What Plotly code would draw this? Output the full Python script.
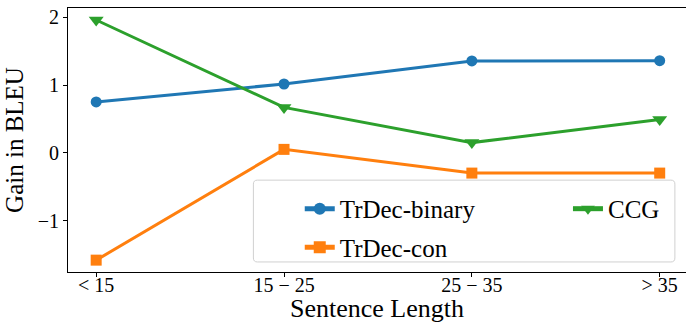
import plotly.graph_objects as go

categories = ["< 15", "15 − 25", "25 − 35", "> 35"]
trdec_binary = [0.75, 1.015, 1.355, 1.36]
trdec_con = [-1.585, 0.05, -0.30, -0.30]
ccg = [1.96, 0.67, 0.15, 0.49]

x = list(range(len(categories)))
FONT = "Liberation Serif"

fig = go.Figure()
fig.add_trace(go.Scatter(x=x, y=trdec_binary, name="TrDec-binary", mode="lines+markers",
                         line=dict(color="#1f77b4", width=3),
                         marker=dict(symbol="circle", size=11, color="#1f77b4"),
                         legend="legend", legendgroup="a"))
fig.add_trace(go.Scatter(x=x, y=trdec_con, name="TrDec-con", mode="lines+markers",
                         line=dict(color="#ff7f0e", width=3),
                         marker=dict(symbol="square", size=11, color="#ff7f0e"),
                         legend="legend", legendgroup="b"))
fig.add_trace(go.Scatter(x=x, y=ccg, name="CCG", mode="lines+markers",
                         line=dict(color="#2ca02c", width=3),
                         marker=dict(symbol="triangle-down", size=13, color="#2ca02c"),
                         legend="legend2"))

# rounded legend frame (paper coordinates)
x0, x1, y0, y1 = 0.300, 0.982, 0.038, 0.348
rx, ry = 0.0065, 0.015
path = (f"M{x0+rx},{y0} L{x1-rx},{y0} Q{x1},{y0} {x1},{y0+ry} L{x1},{y1-ry} "
        f"Q{x1},{y1} {x1-rx},{y1} L{x0+rx},{y1} Q{x0},{y1} {x0},{y1-ry} "
        f"L{x0},{y0+ry} Q{x0},{y0} {x0+rx},{y0} Z")
fig.add_shape(type="path", path=path, xref="paper", yref="paper", layer="above",
              line=dict(color="#d0d0d0", width=1), fillcolor="rgba(255,255,255,0.8)")

legend_common = dict(bgcolor="rgba(0,0,0,0)", borderwidth=0,
                     font=dict(family=FONT, size=25, color="black"),
                     itemsizing="constant", tracegroupgap=3,
                     xanchor="left", yanchor="top")

fig.update_layout(
    width=686, height=323,
    margin=dict(l=68, r=0, t=8, b=51),
    plot_bgcolor="white", paper_bgcolor="white",
    font=dict(family=FONT, size=20, color="black"),
    xaxis=dict(range=[-0.15, 3.14], tickmode="array", tickvals=x, ticktext=categories,
               showgrid=False, zeroline=False, showline=True, linecolor="black", linewidth=1,
               mirror=True, ticks="outside", ticklen=4, tickcolor="black",
               tickfont=dict(family=FONT, size=20, color="black"), automargin=False,
               ticklabelstandoff=-9,
               title=dict(text="Sentence Length", font=dict(family=FONT, size=26, color="black"),
                          standoff=2)),
    yaxis=dict(range=[-1.76, 2.137], tickvals=[-1, 0, 1, 2],
               showgrid=False, zeroline=False, showline=True, linecolor="black", linewidth=1,
               mirror=False, ticks="outside", ticklen=4, tickcolor="black",
               tickfont=dict(family=FONT, size=20, color="black"), automargin=False,
               title=dict(text="Gain in BLEU", font=dict(family=FONT, size=25, color="black"),
                          standoff=6)),
    legend=dict(x=0.375, y=0.326, **legend_common),
    legend2=dict(x=0.809, y=0.326, **legend_common),
    showlegend=True,
)

fig.write_html("out.html", post_script="document.body.style.margin='0';",
               config={"displayModeBar": False})
